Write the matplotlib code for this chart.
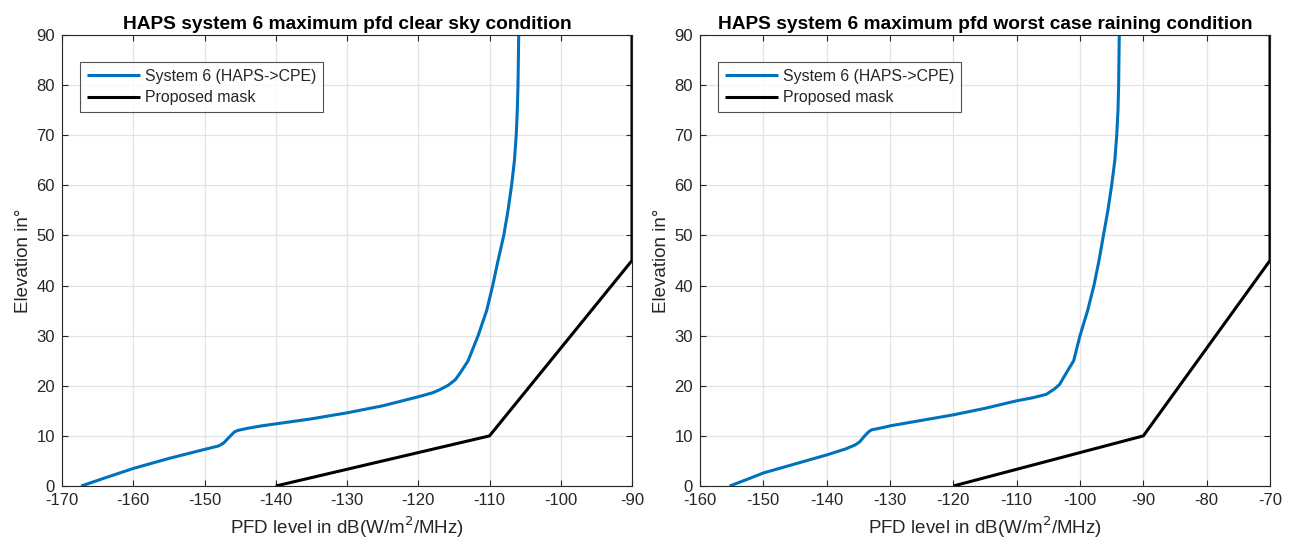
import matplotlib
matplotlib.use("Agg")
import matplotlib.pyplot as plt

plt.rcParams['font.family'] = ['Liberation Sans', 'DejaVu Sans']
plt.rcParams['axes.unicode_minus'] = False

# ---- data: clear sky ----
clear_pfd = [-167.3, -164, -160, -155, -150, -148, -147.3, -146.5, -145.8, -145.3, -144, -142, -140,
             -135, -130, -125, -120, -118, -117, -115.8, -114.8, -114.0, -113.0, -111.6,
             -110.4, -109.55, -108.8, -108.0, -107.4, -106.9, -106.5, -106.25, -106.1, -106.0, -105.95, -105.9]
clear_elev = [0, 1.6, 3.5, 5.5, 7.3, 8.0, 8.6, 9.8, 10.8, 11.1, 11.5, 12.0, 12.4,
              13.4, 14.6, 16.0, 17.8, 18.6, 19.2, 20.1, 21.2, 22.8, 25.0, 30.0,
              35.0, 40.0, 45.0, 50.0, 55.0, 60.0, 65.0, 70.0, 75.0, 80.0, 85.0, 90.0]

# ---- data: worst case raining ----
rain_pfd = [-155.3, -152, -150, -145, -140, -137, -135.5, -134.8, -134.0, -133.3, -132.9, -131, -130,
            -125, -120, -115, -110, -107.5, -105.3, -104, -103.2, -102.8, -102.0, -101.0,
            -100.0, -98.8, -97.8, -97.0, -96.3, -95.6, -95.0, -94.5, -94.2, -94.0, -93.9, -93.85, -93.8]
rain_elev = [0, 1.6, 2.6, 4.4, 6.2, 7.4, 8.2, 8.8, 10.0, 10.9, 11.2, 11.7, 12.0,
             13.1, 14.2, 15.5, 17.0, 17.6, 18.3, 19.4, 20.3, 21.2, 22.9, 25.0,
             30.0, 35.0, 40.0, 45.0, 50.0, 55.0, 60.0, 65.0, 70.0, 75.0, 80.0, 85.0, 90.0]

# ---- proposed masks ----
mask1_pfd = [-140, -110, -90, -90]
mask1_elev = [0, 10, 45, 90]
mask2_pfd = [-120, -90, -70, -70]
mask2_elev = [0, 10, 45, 90]

titles = ["HAPS system 6 maximum pfd clear sky condition",
          "HAPS system 6 maximum pfd worst case raining condition"]
xlims = [(-170, -90), (-160, -70)]
series_label = "System 6 (HAPS->CPE)"
mask_label = "Proposed mask"

BLUE = "#0072BD"
TXT = "#262626"

fig = plt.figure(figsize=(12.95, 5.47), dpi=100)
rects = [[62/1295, 1-486/547, 570/1295, 451/547],
         [700/1295, 1-486/547, 570/1295, 451/547]]

data = [(clear_pfd, clear_elev, mask1_pfd, mask1_elev),
        (rain_pfd, rain_elev, mask2_pfd, mask2_elev)]

for i in range(2):
    ax = fig.add_axes(rects[i])
    bp, be, mp, me = data[i]
    ax.plot(bp, be, color=BLUE, lw=2.2, label=series_label,
            solid_joinstyle='round', solid_capstyle='butt')
    ax.plot(mp, me, color='black', lw=2.2, label=mask_label, solid_capstyle='butt')
    ax.set_xlim(*xlims[i])
    ax.set_ylim(0, 90)
    ax.set_xticks(range(xlims[i][0], xlims[i][1] + 1, 10))
    ax.set_yticks(range(0, 91, 10))
    ax.grid(True, color='#e3e3e3', lw=0.9)
    ax.set_axisbelow(True)
    ax.tick_params(direction='in', top=True, right=True, labelsize=12, colors=TXT,
                   length=4, width=0.8, pad=5)
    for s in ax.spines.values():
        s.set_color('#262626')
        s.set_linewidth(0.8)
    ax.set_title(titles[i], fontsize=13.8, fontweight='bold', color='black', pad=4)
    ax.set_xlabel("PFD level in dB(W/m$^2$/MHz)", fontsize=13.5, color=TXT, labelpad=5)
    ax.set_ylabel("Elevation in°", fontsize=13.5, color=TXT, labelpad=3)
    leg = ax.legend(loc='upper left', bbox_to_anchor=(0.0316, 0.94), fontsize=11.4,
                    frameon=True, fancybox=False, edgecolor='#262626',
                    handlelength=3.4, handletextpad=0.3, borderpad=0.42,
                    labelspacing=0.42, borderaxespad=0)
    leg.get_frame().set_linewidth(0.8)
    for t in leg.get_texts():
        t.set_color(TXT)

fig.savefig("out.png", dpi=100)
